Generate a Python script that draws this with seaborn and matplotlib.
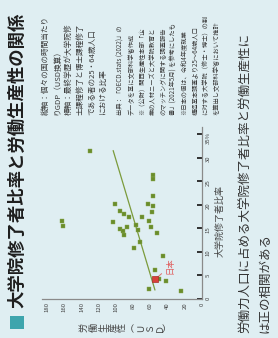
from pathlib import Path

import pandas as pd
import seaborn as sns
import matplotlib.pyplot as plt
from matplotlib.patches import Rectangle

sns.set_style("white")
plt.rcParams.update(
    {
        "font.family": ["Noto Sans CJK JP", "DejaVu Sans"],
        "axes.unicode_minus": False,
    }
)

BG = "#dfeef2"
GREEN = "#6a8d2b"
RED = "#d9413a"
W, H = 278, 338  # размер картинки в пикселях

# 大学院修了者比率 (%) / 労働生産性 (USD), по странам
ratio = [
    31.5, 20.2, 18.7, 18.1, 17.3, 16.6, 15.4, 16.3, 14.8, 14.4, 13.6,
    15.3, 15.7, 14.6, 10.9, 12.1, 26.3, 25.4, 21.8, 20.2, 19.8, 18.5,
    17.3, 16.5, 15.3, 13.9, 9.2, 6.2, 4.3, 3.8, 2.1, 1.7,
]
productivity = [
    130.4, 100.8, 95.6, 91.3, 85.1, 162.6, 161.8, 104.1, 95.6, 91.5, 90.9,
    86.9, 77.0, 74.7, 79.1, 72.4, 57.3, 57.3, 56.7, 63.1, 57.6, 58.4,
    69.5, 61.6, 59.3, 52.6, 45.6, 54.9, 49.9, 42.2, 61.9, 25.1,
]
japan_ratio = 4.2
japan_productivity = 54.6

# линия тренда, как нарисована на картинке
trend_ratio = [1.9, 31.5]
trend_productivity = [54.9, 103.4]

x_ticks = [0, 20, 40, 60, 80, 100, 120, 140, 160, 180]
y_ticks = [0, 5, 10, 15, 20, 25, 30, 35]
y_tick_labels = ["0", "5", "10", "15", "20", "25", "30", "35%"]

title = "大学院修了者比率と労働生産性の関係"
x_label = "大学院修了者比率"
y_label = "労働生産性︵ＵＳＤ︶"
conclusion = [
    "労働力人口に占める大学院修了者比率と労働生産性に",
    "は正の相関がある",
]
axis_notes = [
    "縦軸：個々の国の時間当たり",
    "りGDP（USD換算）",
    "横軸：最終学歴が大学院修",
    "士課程修了と博士課程修了",
    "である者の25・64歳人口",
    "における比率",
]
source_notes = [
    "出典：「OECD.stats (2022)」の",
    "データを基に文部科学省作成",
    "※（公財）関西生産性本部「企",
    "業の人材ニーズと大学院教育と",
    "のマッチングに関する調査報告",
    "書」(2021年5月) を参考にしたも",
    "※日本の値は、令和4年度就業",
    "構造基本調査より25〜64歳人口",
    "に対する大学院（修士・博士）の割",
    "を算出し文部科学省において推計",
]


def column_text(fig, lines, x0, step, bottom, size, **kwargs) -> None:
    # повернутый текст: каждая строка — вертикальная колонка
    for i, line in enumerate(lines):
        fig.text(
            (x0 + i * step) / W,
            1 - bottom / H,
            line,
            rotation=90,
            ha="center",
            va="bottom",
            fontsize=size,
            **kwargs,
        )


def plot_relation(save_path: Path) -> None:
    fig = plt.figure(figsize=(W / 100, H / 100), dpi=100, facecolor=BG)
    ax = fig.add_axes([0.151, 0.1154, 0.5766, 0.5089])
    ax.set_facecolor(BG)

    df = pd.DataFrame({"ratio": ratio, "productivity": productivity})

    sns.lineplot(
        x=trend_productivity, y=trend_ratio, ax=ax,
        color="#7b9b3c", lw=0.9, sort=False, estimator=None,
    )
    sns.scatterplot(
        data=df, x="productivity", y="ratio", ax=ax, marker="s", s=9,
        color=GREEN, edgecolor="#8aa852", linewidth=0.3, zorder=3,
    )
    sns.scatterplot(
        x=[japan_productivity], y=[japan_ratio], ax=ax, marker="s", s=14,
        color=RED, edgecolor="#a8302a", linewidth=0.5, zorder=4,
    )
    ax.annotate(
        "日本",
        xy=(japan_productivity, japan_ratio),
        xytext=(36.9, 7.0),
        rotation=90, ha="center", va="center", fontsize=6, color="#e05a5a",
        arrowprops=dict(arrowstyle="-", color="#e07070", lw=0.7, shrinkA=1, shrinkB=2),
    )

    ax.set_xlim(186, 0)
    ax.set_ylim(0, 36.5)
    ax.set_xticks(x_ticks)
    ax.set_xticklabels([str(v) for v in x_ticks])
    ax.yaxis.tick_right()
    ax.set_yticks(y_ticks)
    ax.set_yticklabels(y_tick_labels)
    ax.tick_params(
        direction="in", length=3.5, width=1.3, color="#222222",
        labelsize=4.3, labelcolor="#444444", pad=2.5, labelrotation=90,
    )
    for side in ["left", "top"]:
        ax.spines[side].set_visible(False)
    for side in ["right", "bottom"]:
        ax.spines[side].set_color("#8a8a8a")
        ax.spines[side].set_linewidth(0.9)

    ax.set_ylabel(x_label, fontsize=6.5, color="#444444")
    ax.yaxis.set_label_position("right")
    ax.yaxis.set_label_coords(1.085, 0.453)
    ax.set_xlabel(
        "\n".join(y_label), rotation=90, fontsize=6.5,
        color="#444444", linespacing=1.05,
    )
    ax.xaxis.set_label_coords(0.527, -0.14)

    fig.add_artist(
        Rectangle(
            (10 / W, 1 - 329 / H), 14 / W, 13 / H,
            transform=fig.transFigure, facecolor="#3ea5ad", edgecolor="none",
        )
    )
    column_text(fig, [title], 17, 0, 308, 12.5, weight="bold", color="#1e1e1e")
    column_text(fig, axis_notes, 46, 11.5, 115, 5.5, color="#3a3a3a")
    column_text(fig, source_notes, 121, 10.6, 115, 4.5, color="#3a3a3a")
    column_text(fig, conclusion, 246, 19, 333, 9, color="#333333")

    fig.savefig(save_path, dpi=100, facecolor=BG)
    plt.close(fig)


plot_relation(Path("out.png"))
